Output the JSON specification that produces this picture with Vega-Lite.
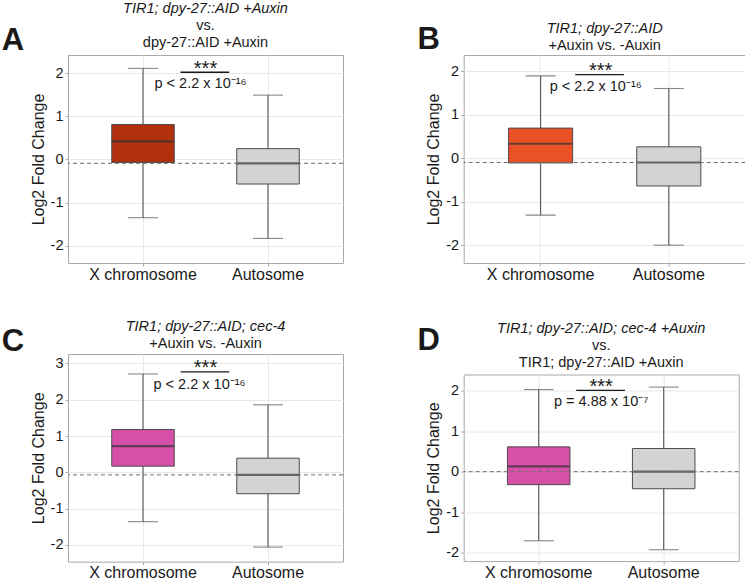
{
  "$schema": "https://vega.github.io/schema/vega-lite/v6.json",
  "padding": {"left": 0, "top": 0, "right": 0, "bottom": 0},
  "datasets": {
    "boxes": [
      {"panel": "A", "group": "X chromosome", "lower": -1.35, "q1": -0.07, "median": 0.42, "q3": 0.81, "upper": 2.11},
      {"panel": "A", "group": "Autosome", "lower": -1.83, "q1": -0.57, "median": -0.09, "q3": 0.25, "upper": 1.49},
      {"panel": "B", "group": "X chromosome", "lower": -1.31, "q1": -0.11, "median": 0.33, "q3": 0.69, "upper": 1.89},
      {"panel": "B", "group": "Autosome", "lower": -2.0, "q1": -0.64, "median": -0.1, "q3": 0.26, "upper": 1.6},
      {"panel": "C", "group": "X chromosome", "lower": -1.36, "q1": 0.17, "median": 0.72, "q3": 1.18, "upper": 2.71},
      {"panel": "C", "group": "Autosome", "lower": -2.06, "q1": -0.59, "median": -0.07, "q3": 0.39, "upper": 1.86},
      {"panel": "D", "group": "X chromosome", "lower": -1.7, "q1": -0.32, "median": 0.13, "q3": 0.61, "upper": 2.02},
      {"panel": "D", "group": "Autosome", "lower": -1.92, "q1": -0.42, "median": 0.0, "q3": 0.57, "upper": 2.08}
    ],
    "tests": [
      {"panel": "A", "group1": "X chromosome", "group2": "Autosome", "ybar": 2.02, "stars": "***", "p": "p < 2.2 x 10⁻¹⁶"},
      {"panel": "B", "group1": "X chromosome", "group2": "Autosome", "ybar": 1.92, "stars": "***", "p": "p < 2.2 x 10⁻¹⁶"},
      {"panel": "C", "group1": "X chromosome", "group2": "Autosome", "ybar": 2.77, "stars": "***", "p": "p < 2.2 x 10⁻¹⁶"},
      {"panel": "D", "group1": "X chromosome", "group2": "Autosome", "ybar": 2.0, "stars": "***", "p": "p = 4.88 x 10⁻⁷"}
    ]
  },
  "hconcat": [
    {
      "vconcat": [
        {
          "width": 275,
          "height": 208,
          "title": {"text": "TIR1; dpy-27::AID +Auxin", "subtitle": ["vs.", "dpy-27::AID +Auxin"], "fontSize": 14.5, "subtitleFontSize": 14.5, "offset": -26.5},
          "resolve": {"axis": {"x": "independent"}},
          "layer": [
            {
              "data": {"name": "boxes"},
              "transform": [{"filter": "datum.panel === 'A'"}],
              "encoding": {
                "x": {"field": "group", "type": "nominal", "title": null, "scale": {"domain": ["X chromosome", "Autosome"], "paddingInner": 0, "paddingOuter": 0.1}}
              },
              "layer": [
                {
                  "mark": {"type": "rule", "color": "#555555", "strokeWidth": 1.1},
                  "encoding": {
                    "y": {"field": "lower", "type": "quantitative", "scale": {"domain": [-2.4, 2.42], "nice": false, "zero": false},
                      "axis": {"title": "Log2 Fold Change", "values": [-2, -1.5, -1, -0.5, 0, 0.5, 1, 1.5, 2],
                        "labelExpr": "datum.value % 1 === 0 ? '' + datum.value : ''",
                        "tickOpacity": {"condition": {"test": "datum.value % 1 !== 0", "value": 0}, "value": 1},
                        "gridColor": {"condition": {"test": "datum.value % 1 !== 0", "value": "#F4F4F4"}, "value": "#E8E8E8"}}},
                    "y2": {"field": "upper"}
                  }
                },
                {
                  "mark": {"type": "bar", "width": {"band": 0.5}, "stroke": "#4D4D4D", "strokeWidth": 1},
                  "encoding": {
                    "y": {"field": "q1", "type": "quantitative"},
                    "y2": {"field": "q3"},
                    "color": {"condition": {"test": "datum.group === 'Autosome'", "value": "#D3D3D3"}, "value": "#B0300E"}
                  }
                },
                {"mark": {"type": "tick", "orient": "horizontal", "size": 62.5, "thickness": 2.2, "color": "#333333"}, "encoding": {"y": {"field": "median", "type": "quantitative"}}},
                {"mark": {"type": "tick", "orient": "horizontal", "size": 30, "thickness": 1.1, "color": "#555555"}, "encoding": {"y": {"field": "lower", "type": "quantitative"}}},
                {"mark": {"type": "tick", "orient": "horizontal", "size": 30, "thickness": 1.1, "color": "#555555"}, "encoding": {"y": {"field": "upper", "type": "quantitative"}}}
              ]
            },
            {
              "data": {"name": "boxes"},
              "transform": [{"filter": "datum.panel === 'A' && datum.group === 'Autosome'"}],
              "mark": {"type": "rule", "strokeDash": [4, 3], "color": "#6E6E6E", "strokeWidth": 1},
              "encoding": {"y": {"field": "median", "type": "quantitative"}}
            },
            {
              "data": {"name": "tests"},
              "transform": [{"filter": "datum.panel === 'A'"}],
              "encoding": {"y": {"field": "ybar", "type": "quantitative"}},
              "layer": [
                {
                  "mark": {"type": "rule", "color": "#1a1a1a", "strokeWidth": 1.3},
                  "encoding": {
                    "x": {"field": "group1", "type": "nominal", "bandPosition": 0.8,
                      "axis": {"orient": "top", "title": "A", "titleX": -66.7, "titleY": -6, "labels": false, "ticks": false, "grid": false, "domain": false, "titleAlign": "left", "titleBaseline": "alphabetic", "titleAngle": 0, "titleFontSize": 31, "titleFontWeight": "bold"}},
                    "x2": {"field": "group2", "bandPosition": 0.19}
                  }
                },
                {"mark": {"type": "text", "fontSize": 20, "baseline": "alphabetic", "dy": 2.6, "color": "#1a1a1a"}, "encoding": {"x": {"field": "group1", "type": "nominal", "bandPosition": 1}, "text": {"field": "stars"}}},
                {"mark": {"type": "text", "fontSize": 14.5, "baseline": "alphabetic", "dy": 16, "dx": -5, "color": "#1a1a1a"}, "encoding": {"x": {"field": "group1", "type": "nominal", "bandPosition": 1}, "text": {"field": "p"}}}
              ]
            }
          ]
        },
        {
          "width": 275,
          "height": 207.6,
          "title": {"text": "TIR1; dpy-27::AID; cec-4", "subtitle": "+Auxin vs. -Auxin", "fontSize": 14.5, "subtitleFontSize": 14.5, "offset": -25.5},
          "resolve": {"axis": {"x": "independent"}},
          "layer": [
            {
              "data": {"name": "boxes"},
              "transform": [{"filter": "datum.panel === 'C'"}],
              "encoding": {
                "x": {"field": "group", "type": "nominal", "title": null, "scale": {"domain": ["X chromosome", "Autosome"], "paddingInner": 0, "paddingOuter": 0.1}}
              },
              "layer": [
                {
                  "mark": {"type": "rule", "color": "#555555", "strokeWidth": 1.1},
                  "encoding": {
                    "y": {"field": "lower", "type": "quantitative", "scale": {"domain": [-2.46, 3.26], "nice": false, "zero": false},
                      "axis": {"title": "Log2 Fold Change", "values": [-2, -1.5, -1, -0.5, 0, 0.5, 1, 1.5, 2, 2.5, 3],
                        "labelExpr": "datum.value % 1 === 0 ? '' + datum.value : ''",
                        "tickOpacity": {"condition": {"test": "datum.value % 1 !== 0", "value": 0}, "value": 1},
                        "gridColor": {"condition": {"test": "datum.value % 1 !== 0", "value": "#F4F4F4"}, "value": "#E8E8E8"}}},
                    "y2": {"field": "upper"}
                  }
                },
                {
                  "mark": {"type": "bar", "width": {"band": 0.5}, "stroke": "#4D4D4D", "strokeWidth": 1},
                  "encoding": {
                    "y": {"field": "q1", "type": "quantitative"},
                    "y2": {"field": "q3"},
                    "color": {"condition": {"test": "datum.group === 'Autosome'", "value": "#D3D3D3"}, "value": "#D64FA8"}
                  }
                },
                {"mark": {"type": "tick", "orient": "horizontal", "size": 62.5, "thickness": 2.2, "color": "#333333"}, "encoding": {"y": {"field": "median", "type": "quantitative"}}},
                {"mark": {"type": "tick", "orient": "horizontal", "size": 30, "thickness": 1.1, "color": "#555555"}, "encoding": {"y": {"field": "lower", "type": "quantitative"}}},
                {"mark": {"type": "tick", "orient": "horizontal", "size": 30, "thickness": 1.1, "color": "#555555"}, "encoding": {"y": {"field": "upper", "type": "quantitative"}}}
              ]
            },
            {
              "data": {"name": "boxes"},
              "transform": [{"filter": "datum.panel === 'C' && datum.group === 'Autosome'"}],
              "mark": {"type": "rule", "strokeDash": [4, 3], "color": "#6E6E6E", "strokeWidth": 1},
              "encoding": {"y": {"field": "median", "type": "quantitative"}}
            },
            {
              "data": {"name": "tests"},
              "transform": [{"filter": "datum.panel === 'C'"}],
              "encoding": {"y": {"field": "ybar", "type": "quantitative"}},
              "layer": [
                {
                  "mark": {"type": "rule", "color": "#1a1a1a", "strokeWidth": 1.3},
                  "encoding": {
                    "x": {"field": "group1", "type": "nominal", "bandPosition": 0.8,
                      "axis": {"orient": "top", "title": "C", "titleX": -66.7, "titleY": -3.5, "labels": false, "ticks": false, "grid": false, "domain": false, "titleAlign": "left", "titleBaseline": "alphabetic", "titleAngle": 0, "titleFontSize": 31, "titleFontWeight": "bold"}},
                    "x2": {"field": "group2", "bandPosition": 0.19}
                  }
                },
                {"mark": {"type": "text", "fontSize": 20, "baseline": "alphabetic", "dy": 2.6, "color": "#1a1a1a"}, "encoding": {"x": {"field": "group1", "type": "nominal", "bandPosition": 1}, "text": {"field": "stars"}}},
                {"mark": {"type": "text", "fontSize": 14.5, "baseline": "alphabetic", "dy": 17, "dx": -6, "color": "#1a1a1a"}, "encoding": {"x": {"field": "group1", "type": "nominal", "bandPosition": 1}, "text": {"field": "p"}}}
              ]
            }
          ]
        }
      ],
      "spacing": 35
    },
    {
      "vconcat": [
        {
          "width": 282,
          "height": 208,
          "title": {"text": ["", "TIR1; dpy-27::AID"], "subtitle": "+Auxin vs. -Auxin", "fontSize": 14.5, "subtitleFontSize": 14.5, "offset": -29.5},
          "resolve": {"axis": {"x": "independent"}},
          "layer": [
            {
              "data": {"name": "boxes"},
              "transform": [{"filter": "datum.panel === 'B'"}],
              "encoding": {
                "x": {"field": "group", "type": "nominal", "title": null, "scale": {"domain": ["X chromosome", "Autosome"], "paddingInner": 0, "paddingOuter": 0.1}}
              },
              "layer": [
                {
                  "mark": {"type": "rule", "color": "#555555", "strokeWidth": 1.1},
                  "encoding": {
                    "y": {"field": "lower", "type": "quantitative", "scale": {"domain": [-2.41, 2.37], "nice": false, "zero": false},
                      "axis": {"title": "Log2 Fold Change", "values": [-2, -1.5, -1, -0.5, 0, 0.5, 1, 1.5, 2],
                        "labelExpr": "datum.value % 1 === 0 ? '' + datum.value : ''",
                        "tickOpacity": {"condition": {"test": "datum.value % 1 !== 0", "value": 0}, "value": 1},
                        "gridColor": {"condition": {"test": "datum.value % 1 !== 0", "value": "#F4F4F4"}, "value": "#E8E8E8"}}},
                    "y2": {"field": "upper"}
                  }
                },
                {
                  "mark": {"type": "bar", "width": {"band": 0.5}, "stroke": "#4D4D4D", "strokeWidth": 1},
                  "encoding": {
                    "y": {"field": "q1", "type": "quantitative"},
                    "y2": {"field": "q3"},
                    "color": {"condition": {"test": "datum.group === 'Autosome'", "value": "#D3D3D3"}, "value": "#EB5126"}
                  }
                },
                {"mark": {"type": "tick", "orient": "horizontal", "size": 64, "thickness": 2.2, "color": "#333333"}, "encoding": {"y": {"field": "median", "type": "quantitative"}}},
                {"mark": {"type": "tick", "orient": "horizontal", "size": 30, "thickness": 1.1, "color": "#555555"}, "encoding": {"y": {"field": "lower", "type": "quantitative"}}},
                {"mark": {"type": "tick", "orient": "horizontal", "size": 30, "thickness": 1.1, "color": "#555555"}, "encoding": {"y": {"field": "upper", "type": "quantitative"}}}
              ]
            },
            {
              "data": {"name": "boxes"},
              "transform": [{"filter": "datum.panel === 'B' && datum.group === 'Autosome'"}],
              "mark": {"type": "rule", "strokeDash": [4, 3], "color": "#6E6E6E", "strokeWidth": 1},
              "encoding": {"y": {"field": "median", "type": "quantitative"}}
            },
            {
              "data": {"name": "tests"},
              "transform": [{"filter": "datum.panel === 'B'"}],
              "encoding": {"y": {"field": "ybar", "type": "quantitative"}},
              "layer": [
                {
                  "mark": {"type": "rule", "color": "#1a1a1a", "strokeWidth": 1.3},
                  "encoding": {
                    "x": {"field": "group1", "type": "nominal", "bandPosition": 0.77,
                      "axis": {"orient": "top", "title": "B", "titleX": -46.6, "titleY": -6.5, "labels": false, "ticks": false, "grid": false, "domain": false, "titleAlign": "left", "titleBaseline": "alphabetic", "titleAngle": 0, "titleFontSize": 31, "titleFontWeight": "bold"}},
                    "x2": {"field": "group2", "bandPosition": 0.15}
                  }
                },
                {"mark": {"type": "text", "fontSize": 20, "baseline": "alphabetic", "dy": 2.6, "dx": -4, "color": "#1a1a1a"}, "encoding": {"x": {"field": "group1", "type": "nominal", "bandPosition": 1}, "text": {"field": "stars"}}},
                {"mark": {"type": "text", "fontSize": 14.5, "baseline": "alphabetic", "dy": 16, "dx": -9, "color": "#1a1a1a"}, "encoding": {"x": {"field": "group1", "type": "nominal", "bandPosition": 1}, "text": {"field": "p"}}}
              ]
            }
          ]
        },
        {
          "width": 275,
          "height": 186.6,
          "title": {"text": "TIR1; dpy-27::AID; cec-4 +Auxin", "subtitle": ["vs.", "TIR1; dpy-27::AID +Auxin"], "fontSize": 14.5, "subtitleFontSize": 14.5, "offset": -45.8},
          "resolve": {"axis": {"x": "independent"}},
          "layer": [
            {
              "data": {"name": "boxes"},
              "transform": [{"filter": "datum.panel === 'D'"}],
              "encoding": {
                "x": {"field": "group", "type": "nominal", "title": null, "scale": {"domain": ["X chromosome", "Autosome"], "paddingInner": 0, "paddingOuter": 0.1}}
              },
              "layer": [
                {
                  "mark": {"type": "rule", "color": "#555555", "strokeWidth": 1.1},
                  "encoding": {
                    "y": {"field": "lower", "type": "quantitative", "scale": {"domain": [-2.2, 2.39], "nice": false, "zero": false},
                      "axis": {"title": "Log2 Fold Change", "values": [-2, -1.5, -1, -0.5, 0, 0.5, 1, 1.5, 2],
                        "labelExpr": "datum.value % 1 === 0 ? '' + datum.value : ''",
                        "tickOpacity": {"condition": {"test": "datum.value % 1 !== 0", "value": 0}, "value": 1},
                        "gridColor": {"condition": {"test": "datum.value % 1 !== 0", "value": "#F4F4F4"}, "value": "#E8E8E8"}}},
                    "y2": {"field": "upper"}
                  }
                },
                {
                  "mark": {"type": "bar", "width": {"band": 0.5}, "stroke": "#4D4D4D", "strokeWidth": 1},
                  "encoding": {
                    "y": {"field": "q1", "type": "quantitative"},
                    "y2": {"field": "q3"},
                    "color": {"condition": {"test": "datum.group === 'Autosome'", "value": "#D3D3D3"}, "value": "#D64FA8"}
                  }
                },
                {"mark": {"type": "tick", "orient": "horizontal", "size": 62.5, "thickness": 2.2, "color": "#333333"}, "encoding": {"y": {"field": "median", "type": "quantitative"}}},
                {"mark": {"type": "tick", "orient": "horizontal", "size": 30, "thickness": 1.1, "color": "#555555"}, "encoding": {"y": {"field": "lower", "type": "quantitative"}}},
                {"mark": {"type": "tick", "orient": "horizontal", "size": 30, "thickness": 1.1, "color": "#555555"}, "encoding": {"y": {"field": "upper", "type": "quantitative"}}}
              ]
            },
            {
              "data": {"name": "boxes"},
              "transform": [{"filter": "datum.panel === 'D' && datum.group === 'Autosome'"}],
              "mark": {"type": "rule", "strokeDash": [4, 3], "color": "#6E6E6E", "strokeWidth": 1},
              "encoding": {"y": {"field": "median", "type": "quantitative"}}
            },
            {
              "data": {"name": "tests"},
              "transform": [{"filter": "datum.panel === 'D'"}],
              "encoding": {"y": {"field": "ybar", "type": "quantitative"}},
              "layer": [
                {
                  "mark": {"type": "rule", "color": "#1a1a1a", "strokeWidth": 1.3},
                  "encoding": {
                    "x": {"field": "group1", "type": "nominal", "bandPosition": 0.8,
                      "axis": {"orient": "top", "title": "D", "titleX": -46.6, "titleY": -24.7, "labels": false, "ticks": false, "grid": false, "domain": false, "titleAlign": "left", "titleBaseline": "alphabetic", "titleAngle": 0, "titleFontSize": 31, "titleFontWeight": "bold"}},
                    "x2": {"field": "group2", "bandPosition": 0.19}
                  }
                },
                {"mark": {"type": "text", "fontSize": 20, "baseline": "alphabetic", "dy": 2.6, "color": "#1a1a1a"}, "encoding": {"x": {"field": "group1", "type": "nominal", "bandPosition": 1}, "text": {"field": "stars"}}},
                {"mark": {"type": "text", "fontSize": 14.5, "baseline": "alphabetic", "dy": 16, "dx": 0, "color": "#1a1a1a"}, "encoding": {"x": {"field": "group1", "type": "nominal", "bandPosition": 1}, "text": {"field": "p"}}}
              ]
            }
          ]
        }
      ],
      "spacing": 37.5
    }
  ],
  "spacing": 71.7,
  "config": {
    "font": "Liberation Sans",
    "view": {"stroke": "#A8A8A8", "strokeWidth": 1},
    "axis": {
      "domain": false,
      "tickColor": "#A8A8A8",
      "tickSize": 3,
      "labelColor": "#1a1a1a",
      "titleColor": "#1a1a1a",
      "gridColor": "#E8E8E8",
      "labelPadding": 2
    },
    "axisX": {"labelAngle": 0, "labelFontSize": 16, "bandPosition": 0.5, "grid": true, "labelPadding": 0},
    "axisY": {"labelFontSize": 14.5, "titleFontSize": 16, "titleFontWeight": "normal", "titlePadding": 4},
    "title": {
      "fontSize": 14.5,
      "fontWeight": "normal",
      "fontStyle": "italic",
      "lineHeight": 17.5,
      "color": "#1a1a1a",
      "subtitleFontSize": 14.5,
      "subtitleFontStyle": "normal",
      "subtitleColor": "#1a1a1a",
      "subtitleLineHeight": 17.5,
      "subtitlePadding": 2
    }
  }
}
